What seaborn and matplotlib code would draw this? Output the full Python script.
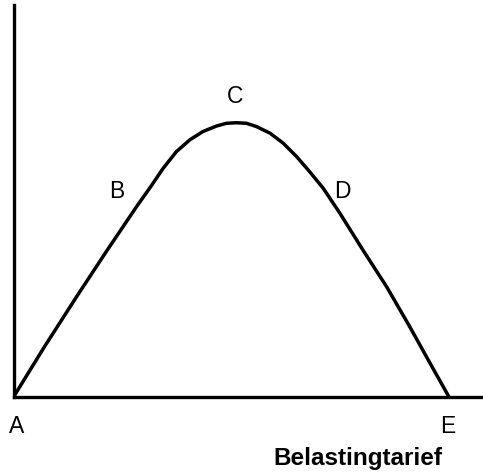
import matplotlib
matplotlib.use("Agg")
import matplotlib.pyplot as plt
import seaborn as sns
import pandas as pd

# Laffer curve: tax rate (0-100) vs. revenue (peak = 100)
tax_rate = [0, 7.0, 14.5, 21.4, 28.3, 31.7, 34.3, 37.4, 40.5, 43.5, 46.6,
            48.9, 51.2, 53.5, 55.8, 58.9, 61.9, 65.0, 68.0, 71.1, 74.9,
            80.2, 85.7, 91.0, 95.6, 100]
revenue = [0, 18.0, 36.5, 53.1, 69.3, 76.9, 83.0, 89.2, 93.5, 96.5, 98.5,
           99.5, 99.7, 99.5, 98.3, 95.9, 92.3, 87.4, 81.9, 75.9, 66.9,
           53.5, 40.0, 25.5, 12.4, 0]

point_labels = ["A", "B", "C", "D", "E"]
point_x = [0.7, 23.7, 50.8, 75.4, 99.8]
point_y = [-13.1, 72.4, 106.9, 72.4, -13.1]
x_label = "Belastingtarief"

sns.set_style("white")
plt.rcParams["font.family"] = ["Liberation Sans", "DejaVu Sans"]

fig = plt.figure(figsize=(4.83, 4.72), dpi=100)
ax = fig.add_axes([13.5 / 483, 75 / 472, (483 - 13.5) / 483, 392 / 472])

df = pd.DataFrame({"rate": tax_rate, "revenue": revenue})
sns.lineplot(data=df, x="rate", y="revenue", ax=ax, color="black",
             linewidth=2.5, sort=False, estimator=None)

ax.set_xlim(0, 107.8)
ax.set_ylim(0, 142.5)
ax.set_xticks([])
ax.set_yticks([])
ax.set_xlabel("")
ax.set_ylabel("")
for side in ["top", "right"]:
    ax.spines[side].set_visible(False)
for side in ["left", "bottom"]:
    ax.spines[side].set_visible(True)
    ax.spines[side].set_color("black")
    ax.spines[side].set_linewidth(2.4)

for lab, x, y in zip(point_labels, point_x, point_y):
    ax.text(x, y, lab, ha="center", va="baseline", fontsize=16.5,
            color="black", clip_on=False)

ax.text(79.1, -24.7, x_label, ha="center", va="baseline", fontsize=17.5,
        fontweight="bold", color="black", clip_on=False)

fig.savefig("out.png", dpi=100, facecolor="white")
